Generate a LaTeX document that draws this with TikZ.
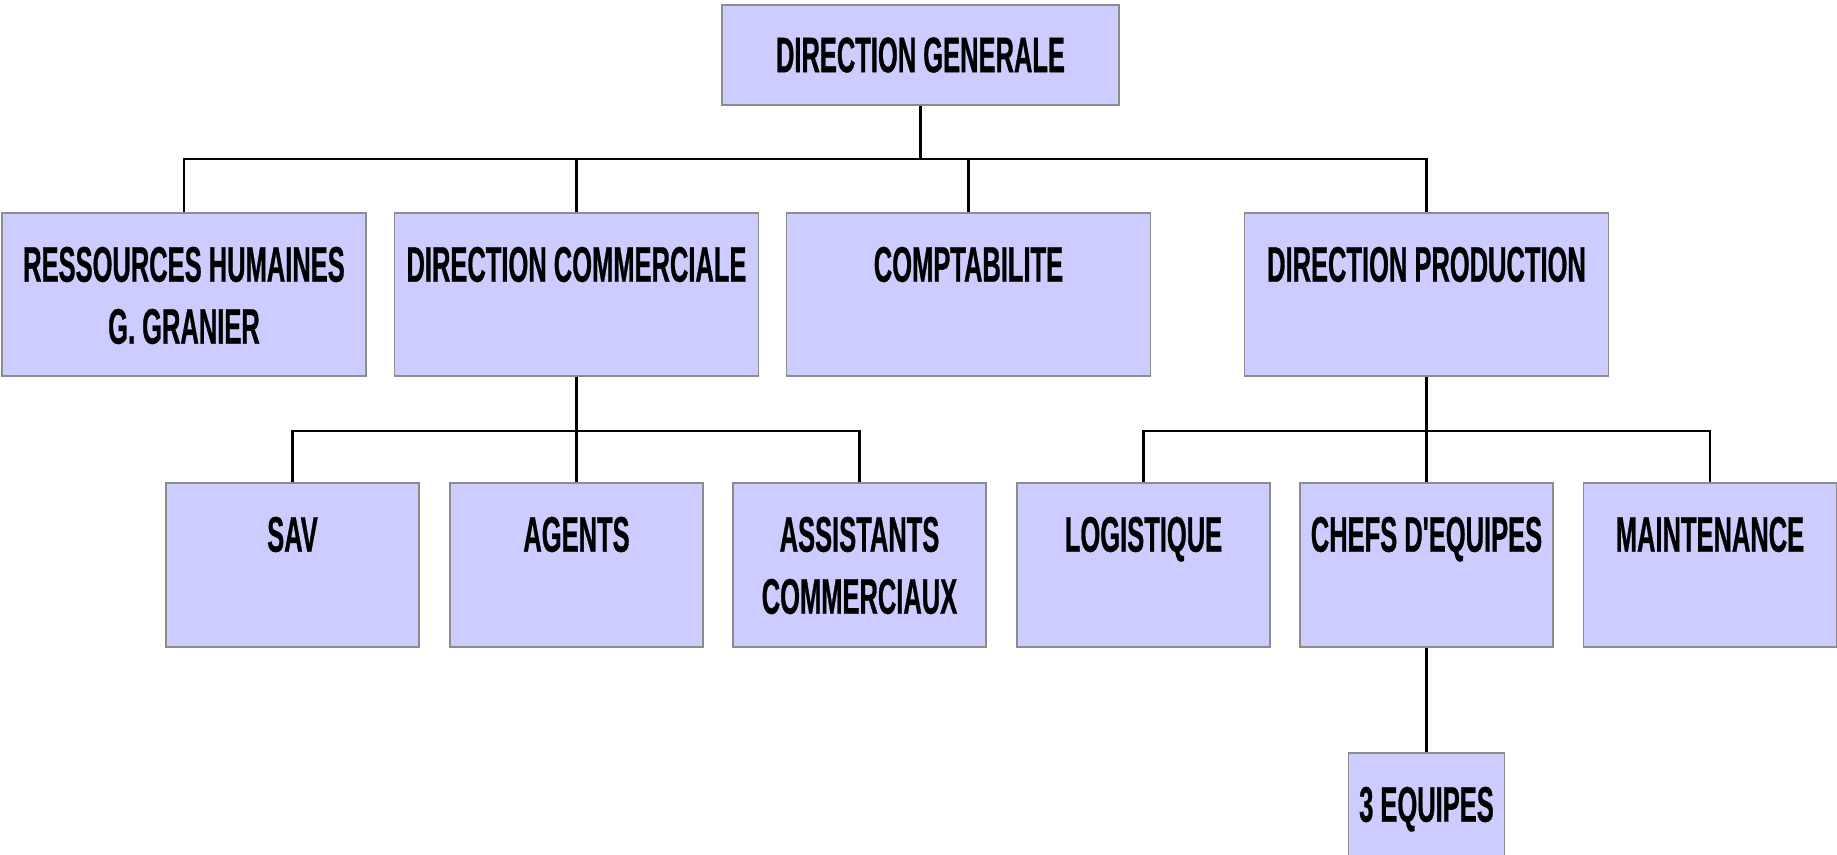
\documentclass[tikz,border=0pt]{standalone}
\usepackage{fontspec}
\newfontfamily\boxfont{Liberation Sans}[FakeStretch=0.51,FakeBold=0.6]
\usepackage{tikz}
\usetikzlibrary{positioning,calc}
\definecolor{boxfill}{HTML}{CCCCFF}
\definecolor{boxline}{HTML}{8C8C8C}
\tikzset{
  unit/.style={draw=boxline, line width=0.6pt, fill=boxfill, inner sep=0pt},
  big/.style={unit, minimum width=182pt, minimum height=81.5pt},
  small/.style={unit, minimum width=126.5pt, minimum height=82pt},
  caption/.style={anchor=north, yshift=-17pt, inner sep=0pt, align=center,
    font=\boxfont\bfseries\fontsize{25}{31}\selectfont},
  link/.style={line width=1.1pt, black},
}

\begin{document}
\begin{tikzpicture}[x=0.5pt,y=-0.5pt]
    \useasboundingbox (0,0) rectangle (1837,855);
    % direction
    \node[unit, minimum width=198.5pt, minimum height=50pt] (dg) at (920.5,55)
        {\boxfont\bfseries\fontsize{25}{31}\selectfont DIRECTION GENERALE};
    % services
    \node[big, label={[caption]north:{RESSOURCES HUMAINES\\G. GRANIER}}] (rh) at (184,294.5) {};
    \node[big, label={[caption]north:{DIRECTION COMMERCIALE}}] (dc) at (576.5,294.5) {};
    \node[big, label={[caption]north:{COMPTABILITE}}] (compt) at (968.5,294.5) {};
    \node[big, label={[caption]north:{DIRECTION PRODUCTION}}] (dp) at (1426.5,294.5) {};
    % commercial
    \node[small, label={[caption]north:{SAV}}] (sav) at (292.5,565) {};
    \node[small, label={[caption]north:{AGENTS}}] (agents) at (576.5,565) {};
    \node[small, label={[caption]north:{ASSISTANTS\\COMMERCIAUX}}] (assist) at (859.5,565) {};
    % production
    \node[small, label={[caption]north:{LOGISTIQUE}}] (logi) at (1143.5,565) {};
    \node[small, label={[caption]north:{CHEFS D'EQUIPES}}] (chefs) at (1426.5,565) {};
    \node[small, label={[caption]north:{MAINTENANCE}}] (maint) at (1710,565) {};
    \node[unit, minimum width=78pt, minimum height=55pt,
        label={[caption]north:{3 EQUIPES}}] (equipes) at (1426.5,808) {};

    \coordinate (bus1) at (920.5,159);
    \coordinate (bus2) at (576.5,431);
    \coordinate (bus3) at (1426.5,431);
    \draw[link] (dg.south) -- (bus1);
    \foreach \n in {rh,dc,compt,dp}
        \draw[link] (bus1) -| (\n.north);
    \draw[link] (dc.south) -- (bus2);
    \foreach \n in {sav,agents,assist}
        \draw[link] (bus2) -| (\n.north);
    \draw[link] (dp.south) -- (bus3);
    \foreach \n in {logi,chefs,maint}
        \draw[link] (bus3) -| (\n.north);
    \draw[link] (chefs.south) -- (equipes.north);
\end{tikzpicture}
\end{document}
